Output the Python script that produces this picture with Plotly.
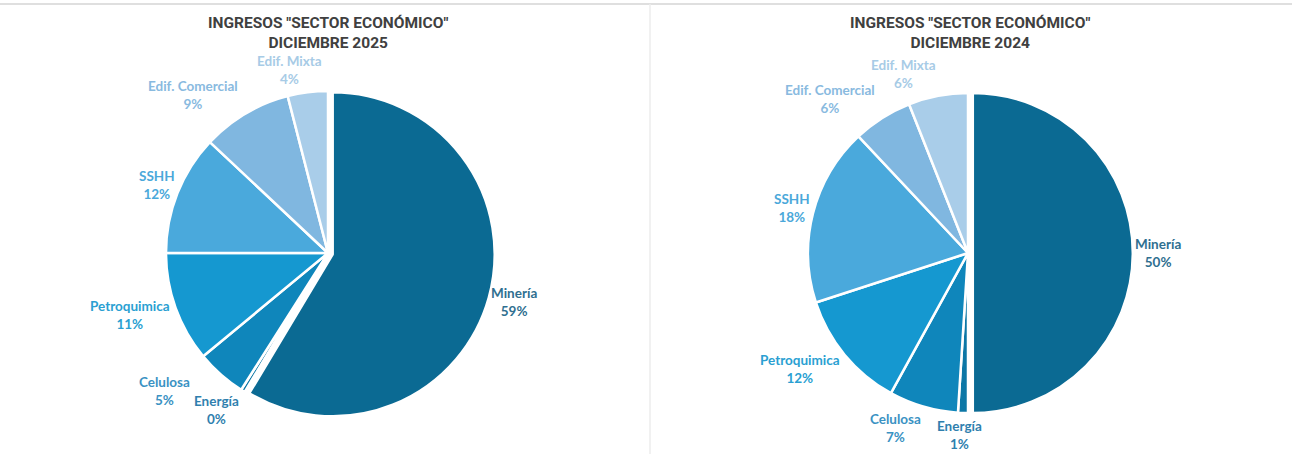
import math
import plotly.graph_objects as go

sectors = ["Minería", "Energía", "Celulosa", "Petroquimica", "SSHH", "Edif. Comercial", "Edif. Mixta"]
values_2025 = [58.6, 0.4, 5, 11, 12, 9, 4]
values_2024 = [50, 1, 7, 12, 18, 6, 6]
titles = ['INGRESOS "SECTOR ECONÓMICO"<br>DICIEMBRE 2025', 'INGRESOS "SECTOR ECONÓMICO"<br>DICIEMBRE 2024']

slice_colors = ["#0b6a93", "#0c77a6", "#0f86bb", "#1598d0", "#4aa9dc", "#80b7e0", "#a9cde9"]
label_colors = ["#2f6f90", "#2f7fae", "#3a92c3", "#2a9fd2", "#4aa8da", "#89badf", "#a7cbe6"]
pulls = [0.03, 0, 0, 0, 0, 0, 0]

W, H = 1292, 454
LABEL_FONT = dict(family="Lato", size=13.5)
CHAR_W = 6.4
HALF_H = 14

fig = go.Figure()


def add_pie(vals, cx, cy, r):
    # domain sized so the pie radius equals r (plotly: r = min(w,h)/(2+2*maxPull))
    size = r * (2 + 2 * max(pulls))
    fig.add_trace(go.Pie(
        labels=sectors, values=vals, sort=False, direction="clockwise", rotation=0,
        pull=pulls, automargin=False, textinfo="none",
        marker=dict(colors=slice_colors, line=dict(color="white", width=2.5)),
        domain=dict(x=[(cx - size / 2) / W, (cx + size / 2) / W],
                    y=[1 - (cy + size / 2) / H, 1 - (cy - size / 2) / H]),
        showlegend=False, hoverinfo="label+percent",
    ))
    # data labels placed outside each slice at its mid-angle (Excel-like, no leader lines)
    total = sum(vals)
    cum = 0
    placed = []
    for name, v, col in zip(sectors, vals, label_colors):
        mid = (cum + v / 2) / total * 2 * math.pi
        cum += v
        ux, uy = math.sin(mid), -math.cos(mid)
        pct = f"{round(v / total * 100)}%"
        half_w = max(len(name), len(pct)) * CHAR_W / 2
        R = 1.05 * r
        x = cx + R * ux + half_w * max(-1, min(1, 4 * ux))
        y = cy + R * uy + HALF_H * uy
        for (px, py, pw) in placed:
            if abs(py - y) < 2 * HALF_H and abs(px - x) < pw + half_w + 4:
                need = pw + half_w + 4 - abs(px - x)
                x += need if ux >= 0 else -need
        placed.append((x, y, half_w))
        fig.add_annotation(text=f"<b>{name}</b><br><b>{pct}</b>", x=x / W, y=1 - y / H,
                           xref="paper", yref="paper", xanchor="center", yanchor="middle",
                           showarrow=False, font=dict(color=col, **LABEL_FONT))


add_pie(values_2025, 328, 253, 162)
add_pie(values_2024, 968, 253, 160)

for t, cx in zip(titles, [328, 970]):
    fig.add_annotation(text=f"<b>{t}</b>", x=cx / W, y=1 - 12 / H, xref="paper", yref="paper",
                       xanchor="center", yanchor="top", showarrow=False,
                       font=dict(family="Roboto", size=15.5, color="#404040"))

fig.add_shape(type="line", xref="paper", yref="paper", x0=0, x1=1, y0=1 - 4 / H, y1=1 - 4 / H,
              line=dict(color="#d4d4d4", width=1.5))
fig.add_shape(type="line", xref="paper", yref="paper", x0=650 / W, x1=650 / W, y0=0, y1=1 - 4 / H,
              line=dict(color="#ececec", width=1.5))

fig.update_layout(width=W, height=H, margin=dict(l=0, r=0, t=0, b=0, autoexpand=False),
                  paper_bgcolor="white", plot_bgcolor="white")

fig.write_html("out.html")
